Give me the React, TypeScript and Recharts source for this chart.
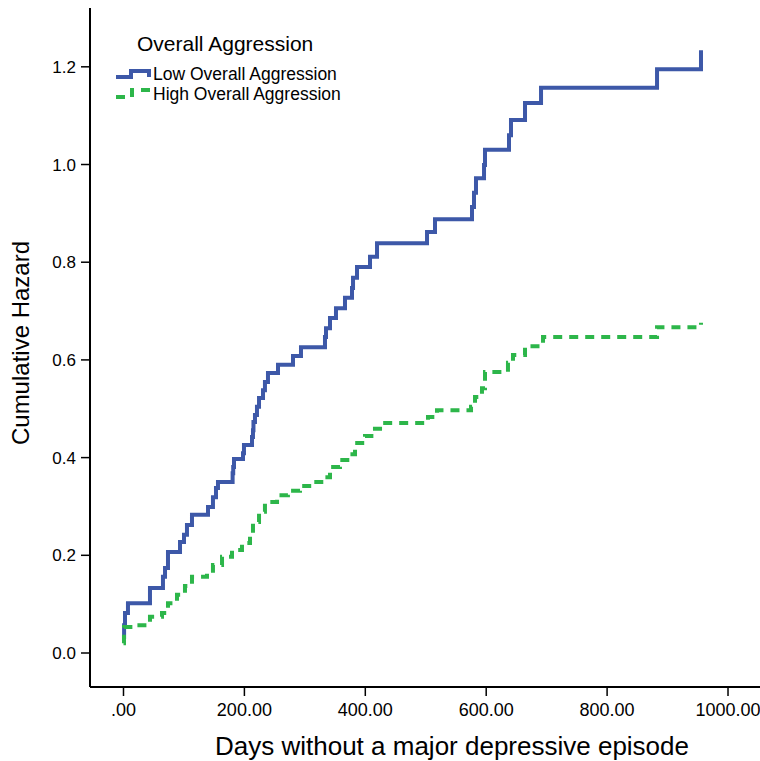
import { LineChart, Line, XAxis, YAxis, Legend } from "recharts";

// step points: day of the jump, hazard after it
const lowDays = [
  0, 1, 2.5, 7.4, 43.8, 65.3, 68.7, 73.6, 93.5, 100.1, 105, 113.3, 139.8, 148,
  153, 156.3, 180.5, 181.5, 182.8, 197.7, 199.3, 212.6, 214.2, 215, 217.5,
  220.8, 224.2, 230.8, 234, 239, 255.6, 280.4, 293.6, 333.3, 335, 341.6, 351.5,
  366.4, 378, 379.7, 386.3, 407.8, 419.4, 502.1, 515.3, 576.5, 579.8, 583.1,
  596.4, 598, 637.7, 641, 664.2, 690.7, 882.6, 955.3,
];
const lowHazard = [
  0.033, 0.057, 0.082, 0.102, 0.133, 0.156, 0.174, 0.207, 0.227, 0.242, 0.262,
  0.283, 0.299, 0.319, 0.338, 0.35, 0.368, 0.381, 0.397, 0.409, 0.426, 0.442,
  0.456, 0.473, 0.487, 0.504, 0.522, 0.538, 0.555, 0.573, 0.59, 0.608, 0.626,
  0.647, 0.665, 0.686, 0.706, 0.727, 0.747, 0.768, 0.79, 0.811, 0.839, 0.862,
  0.888, 0.913, 0.942, 0.972, 0.999, 1.03, 1.06, 1.091, 1.126, 1.157, 1.195,
  1.234,
];

const highDays = [
  0, 0.8, 22.3, 43.8, 63.7, 73.6, 88.5, 101.7, 113.3, 138.1, 148, 163, 179.5,
  196, 209.3, 214.2, 224.2, 234, 254, 272, 292, 311.8, 333.3, 341.6, 358.1,
  374.7, 383, 399.5, 416, 429.2, 503.7, 518.6, 574.9, 581.5, 593, 598, 636,
  644.3, 664.2, 694, 882.6, 955.3,
];
const highHazard = [
  0.02, 0.053, 0.057, 0.074, 0.082, 0.102, 0.119, 0.137, 0.156, 0.164, 0.18,
  0.197, 0.211, 0.225, 0.244, 0.268, 0.289, 0.309, 0.323, 0.332, 0.342, 0.35,
  0.36, 0.381, 0.395, 0.407, 0.43, 0.444, 0.459, 0.471, 0.483, 0.497, 0.504,
  0.524, 0.542, 0.575, 0.594, 0.61, 0.628, 0.647, 0.667, 0.676,
];

const xTicks = [0, 200, 400, 600, 800, 1000];
const yTicks = [0, 0.2, 0.4, 0.6, 0.8, 1.0, 1.2];

const lowData = lowDays.map((d, i) => ({ d, h: lowHazard[i] }));
const highData = highDays.map((d, i) => ({ d, h: highHazard[i] }));

const FONT = "'Liberation Sans', Arial, sans-serif";
const BLUE = "#3d58a8";
const GREEN = "#2db64a";
const DASH = "9 7";

// plot box runs past the right edge of the picture, as in the original
const xDomain = [-55.4, 1284.5];
const yDomain = [-0.0696, 1.3204];

function LegendBox() {
  return (
    <svg width={360} height={110} style={{ display: "block", fontFamily: FONT }}>
      <text x={137} y={51} fontSize={21} fill="#000">
        Overall Aggression
      </text>
      <path d="M116,77 H131 V71 H149 V77" fill="none" stroke={BLUE} strokeWidth={4} />
      <text x={153} y={79.5} fontSize={17.5} fill="#000">
        Low Overall Aggression
      </text>
      <path
        d="M116,97 H132 V90 H150"
        fill="none"
        stroke={GREEN}
        strokeWidth={4}
        strokeDasharray={DASH}
      />
      <text x={153} y={100} fontSize={17.5} fill="#000">
        High Overall Aggression
      </text>
    </svg>
  );
}

export default function App() {
  return (
    <div
      style={{
        position: "absolute",
        left: 0,
        top: 0,
        width: 760,
        height: 761,
        overflow: "hidden",
        background: "#fff",
      }}
    >
      <LineChart width={900} height={761} margin={{ top: 8, right: 0, bottom: 0, left: 0 }}>
        <XAxis
          dataKey="d"
          type="number"
          domain={xDomain}
          ticks={xTicks}
          allowDataOverflow
          height={74}
          tickSize={9}
          tickMargin={7}
          tickFormatter={(v: number) => (v === 0 ? ".00" : v.toFixed(2))}
          tick={{ fill: "#000", fontSize: 18, fontFamily: FONT }}
          axisLine={{ stroke: "#000", strokeWidth: 2 }}
          tickLine={{ stroke: "#000", strokeWidth: 1.5 }}
          label={{
            content: () => (
              <text
                x={452}
                y={755}
                textAnchor="middle"
                fontSize={26}
                fontFamily={FONT}
                fill="#000"
              >
                Days without a major depressive episode
              </text>
            ),
          }}
        />
        <XAxis
          xAxisId="top"
          orientation="top"
          type="number"
          domain={xDomain}
          height={0}
          tick={false}
          tickLine={false}
          axisLine={{ stroke: "#000", strokeWidth: 2 }}
        />
        <YAxis
          type="number"
          domain={yDomain}
          ticks={yTicks}
          allowDataOverflow
          width={90}
          tickSize={9}
          tickMargin={5}
          tickFormatter={(v: number) => v.toFixed(1)}
          tick={{ fill: "#000", fontSize: 17, fontFamily: FONT }}
          axisLine={{ stroke: "#000", strokeWidth: 2 }}
          tickLine={{ stroke: "#000", strokeWidth: 1.5 }}
          label={{
            content: () => (
              <text
                x={29}
                y={343}
                transform="rotate(-90 29 343)"
                textAnchor="middle"
                fontSize={24}
                fontFamily={FONT}
                fill="#000"
              >
                Cumulative Hazard
              </text>
            ),
          }}
        />
        <Legend
          layout="vertical"
          align="center"
          verticalAlign="middle"
          wrapperStyle={{ top: 0, left: 0, width: 360, height: 110 }}
          content={() => <LegendBox />}
        />
        <Line
          data={lowData}
          dataKey="h"
          type="stepAfter"
          stroke={BLUE}
          strokeWidth={4}
          dot={false}
          activeDot={false}
          isAnimationActive={false}
          legendType="none"
        />
        <Line
          data={highData}
          dataKey="h"
          type="stepAfter"
          stroke={GREEN}
          strokeWidth={4}
          strokeDasharray={DASH}
          dot={false}
          activeDot={false}
          isAnimationActive={false}
          legendType="none"
        />
      </LineChart>
    </div>
  );
}
